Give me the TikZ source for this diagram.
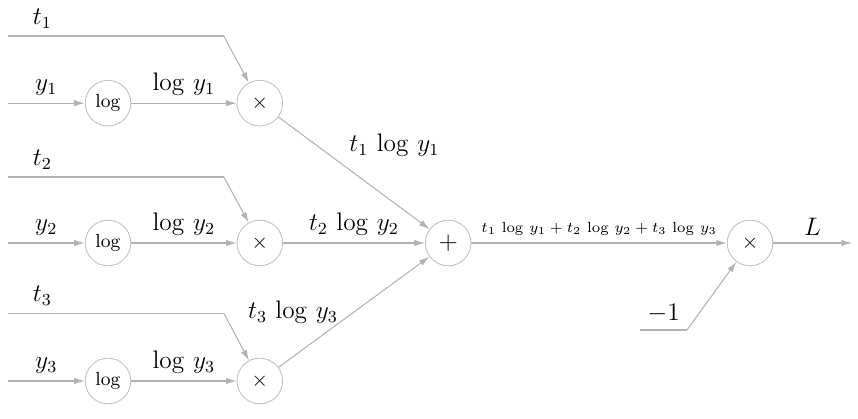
\documentclass[tikz,border=0pt]{standalone}
\usepackage{amsmath}
\usepackage{tikz}
\usetikzlibrary{arrows.meta}

\begin{document}
\begin{tikzpicture}[
    op/.style={draw=black!25, circle, minimum size=0.76cm, inner sep=0pt, font=\small},
    arr/.style={-{Latex[length=5pt, width=3pt]}, draw=black!30, line width=0.5pt},
    wire/.style={draw=black!30, line width=0.5pt},
    lbl/.style={font=\fontsize{11.5}{13}\selectfont},
  ]
  \useasboundingbox (0,0) rectangle (14.3,6.97);

  \coordinate (in_t1) at (0.13,6.37);
  \coordinate (bend1) at (3.73,6.37);
  \coordinate (in_y1) at (0.13,5.25);
  \node[op] (log1) at (1.8,5.25) {$\log$};
  \node[op, font=\normalsize] (mul1) at (4.33,5.25) {$\times$};

  \coordinate (in_t2) at (0.13,4.02);
  \coordinate (bend2) at (3.73,4.02);
  \coordinate (in_y2) at (0.13,2.92);
  \node[op] (log2) at (1.8,2.92) {$\log$};
  \node[op, font=\normalsize] (mul2) at (4.33,2.92) {$\times$};

  \coordinate (in_t3) at (0.13,1.75);
  \coordinate (bend3) at (3.73,1.75);
  \coordinate (in_y3) at (0.13,0.62);
  \node[op] (log3) at (1.8,0.62) {$\log$};
  \node[op, font=\normalsize] (mul3) at (4.33,0.62) {$\times$};

  \node[op, font=\large] (sum) at (7.47,2.92) {$+$};
  \node[op, font=\normalsize] (neg) at (12.5,2.92) {$\times$};
  \coordinate (out) at (14.2,2.92);
  \coordinate (in_m1) at (10.67,1.47);
  \coordinate (bendm) at (11.45,1.47);

  \draw[wire] (in_t1) -- node[lbl, above, pos=0.16] {$t_1$} (bend1);
  \draw[arr] (bend1) -- (mul1);
  \draw[arr] (in_y1) -- node[lbl, above] {$y_1$} (log1);
  \draw[arr] (log1) -- node[lbl, above] {$\log\, y_1$} (mul1);

  \draw[wire] (in_t2) -- node[lbl, above, pos=0.16] {$t_2$} (bend2);
  \draw[arr] (bend2) -- (mul2);
  \draw[arr] (in_y2) -- node[lbl, above] {$y_2$} (log2);
  \draw[arr] (log2) -- node[lbl, above] {$\log\, y_2$} (mul2);

  \draw[wire] (in_t3) -- node[lbl, above, pos=0.16] {$t_3$} (bend3);
  \draw[arr] (bend3) -- (mul3);
  \draw[arr] (in_y3) -- node[lbl, above] {$y_3$} (log3);
  \draw[arr] (log3) -- node[lbl, above] {$\log\, y_3$} (mul3);

  \draw[arr] (mul1) -- node[lbl, above right, pos=0.42] {$t_1\, \log\, y_1$} (sum);
  \draw[arr] (mul2) -- node[lbl, above] {$t_2\, \log\, y_2$} (sum);
  \draw[arr] (mul3) -- node[lbl, left, xshift=-4pt, yshift=0pt] {$t_3\, \log\, y_3$} (sum);

  \draw[arr] (sum) -- node[above, font=\scriptsize]
    {$t_1\, \log\, y_1 + t_2\, \log\, y_2 + t_3\, \log\, y_3$} (neg);
  \draw[wire] (in_m1) -- node[lbl, above] {$-1$} (bendm);
  \draw[arr] (bendm) -- (neg);
  \draw[arr] (neg) -- node[lbl, above] {$L$} (out);

\end{tikzpicture}
\end{document}
